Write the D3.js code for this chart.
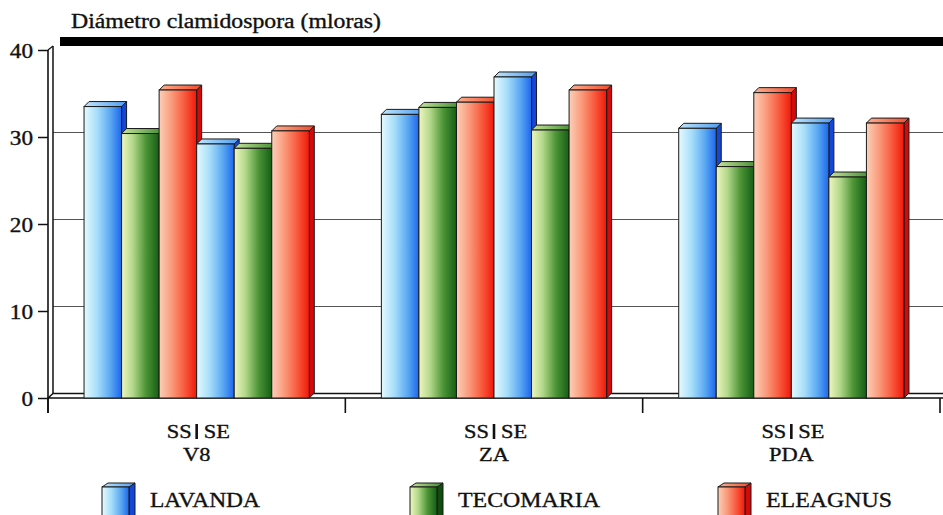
<!DOCTYPE html>
<html>
<head>
<meta charset="utf-8">
<script src="https://cdn.jsdelivr.net/npm/d3@7"></script>
<style>
  html, body { margin: 0; padding: 0; background: #fff; }
  svg { display: block; }
  svg text { fill: #111; stroke: #111; stroke-width: 0.35px; }
</style>
</head>
<body>
<svg id="chart" width="943" height="515"></svg>
<script>
// Sites and growing conditions
const groups = ["V8", "ZA", "PDA"];
const conditions = ["SS", "SE"];
const species = ["LAVANDA", "TECOMARIA", "ELEAGNUS"];

// Chlamydospore diameter per species, one value per site
const lavandaSS   = [33.5, 32.6, 31.0];
const tecomariaSS = [30.4, 33.4, 26.6];
const eleagnusSS  = [35.4, 34.0, 35.1];
const lavandaSE   = [29.2, 36.9, 31.6];
const tecomariaSE = [28.7, 30.8, 25.4];
const eleagnusSE  = [30.7, 35.4, 31.6];

const yTicks = [0, 10, 20, 30, 40];
const titleText = "Diámetro clamidospora (mloras)";

const seriesByCondition = {
  SS: [lavandaSS, tecomariaSS, eleagnusSS],
  SE: [lavandaSE, tecomariaSE, eleagnusSE]
};

const FONT = "Liberation Serif";
const svg = d3.select("#chart");
const W = 943, H = 515;

// 3D offsets: wall/floor depth and bar depth
const wdx = 5, wdy = -4.5;
const bdx = 5, bdy = -5;

const y = d3.scaleLinear().domain([0, 40]).range([398, 50]);
const x0 = d3.scaleBand().domain(groups).range([48, 940]).paddingInner(0).paddingOuter(0);
const slots = [];
conditions.forEach(c => species.forEach((s, i) => slots.push({ c, s, i })));
const x1 = d3.scaleBand().domain(d3.range(slots.length)).range([0, x0.bandwidth()])
  .paddingInner(0).paddingOuter(0.96);

// gradients
const defs = svg.append("defs");
const palettes = {
  LAVANDA:   { stops: [[0, "#e6f9fe"], [0.35, "#a6defa"], [0.7, "#5aa8f2"], [1, "#1d66ec"]], side: "#1446dc", top: ["#bfe6fb", "#4f9cf0"] },
  TECOMARIA: { stops: [[0, "#eef6c0"], [0.3, "#b2d88a"], [0.65, "#4c9436"], [1, "#165e14"]], side: "#0f4c0e", top: ["#c6e39c", "#3e8a2c"] },
  ELEAGNUS:  { stops: [[0, "#fcd0b8"], [0.35, "#fa9878"], [0.7, "#f8553a"], [1, "#f0180a"]], side: "#d40a0a", top: ["#fbb090", "#f04a2c"] }
};
species.forEach(s => {
  const p = palettes[s];
  const g = defs.append("linearGradient").attr("id", "front-" + s)
    .attr("x1", "0").attr("x2", "1").attr("y1", "0").attr("y2", "0");
  p.stops.forEach(([o, c]) => g.append("stop").attr("offset", o).attr("stop-color", c));
  const t = defs.append("linearGradient").attr("id", "top-" + s)
    .attr("x1", "0").attr("x2", "1").attr("y1", "0").attr("y2", "0");
  t.append("stop").attr("offset", 0).attr("stop-color", p.top[0]);
  t.append("stop").attr("offset", 1).attr("stop-color", p.top[1]);
});

// title
svg.append("text")
  .attr("x", 71).attr("y", 28)
  .attr("font-family", FONT).attr("font-size", 20)
  .attr("textLength", 310).attr("lengthAdjust", "spacingAndGlyphs")
  .text(titleText);

// heavy top edge of the back wall
svg.append("rect").attr("x", 60).attr("y", 37).attr("width", W - 60).attr("height", 9).attr("fill", "#000");

// back-wall gridlines
svg.append("g").selectAll("line")
  .data(yTicks.filter(v => v > 0 && v < 40))
  .join("line")
  .attr("x1", 48 + wdx).attr("x2", W)
  .attr("y1", d => y(d) + wdy).attr("y2", d => y(d) + wdy)
  .attr("stroke", "#555").attr("stroke-width", 1);

// left wall edge
svg.append("line").attr("x1", 48 + wdx).attr("x2", 48 + wdx)
  .attr("y1", 46).attr("y2", y(0) + wdy).attr("stroke", "#111").attr("stroke-width", 1.5);
svg.append("line").attr("x1", 48).attr("x2", 48 + wdx)
  .attr("y1", y(40)).attr("y2", 46).attr("stroke", "#111").attr("stroke-width", 1.2);

// floor
svg.append("path")
  .attr("d", `M48,${y(0)} L${48 + wdx},${y(0) + wdy} L${W + 5},${y(0) + wdy} L${W + 5},${y(0)} Z`)
  .attr("fill", "#fff").attr("stroke", "#111").attr("stroke-width", 1.5);

// y axis
const yAxis = d3.axisLeft(y).tickValues(yTicks).tickSize(10).tickPadding(5).tickFormat(d3.format("d"));
const ya = svg.append("g").attr("transform", "translate(48,0)").call(yAxis);
ya.attr("font-family", FONT);
ya.select(".domain").remove();
ya.selectAll(".tick line").attr("stroke", "#111").attr("stroke-width", 1.5);
ya.selectAll(".tick text")
  .attr("font-family", FONT)
  .attr("font-size", 20).attr("fill", "#111").attr("dy", null).attr("y", 7)
  .attr("x", -15)
  .each(function(d) {
    d3.select(this).attr("textLength", String(d).length * 11.6).attr("lengthAdjust", "spacingAndGlyphs");
  });
svg.append("line").attr("x1", 48).attr("x2", 48).attr("y1", y(40)).attr("y2", 413)
  .attr("stroke", "#111").attr("stroke-width", 1.6);

// x axis group separators
const bounds = groups.map(g => x0(g) + x0.bandwidth()).concat([x0(groups[0])]);
svg.append("g").selectAll("line").data(bounds).join("line")
  .attr("x1", d => d).attr("x2", d => d)
  .attr("y1", y(0)).attr("y2", 413)
  .attr("stroke", "#111").attr("stroke-width", 1.6);

// bars
const barData = [];
groups.forEach((g, gi) => {
  slots.forEach((sl, k) => {
    barData.push({ group: g, species: sl.s, cond: sl.c, value: seriesByCondition[sl.c][sl.i][gi], k });
  });
});

const bars = svg.append("g").selectAll("g").data(barData).join("g");
bars.each(function(d) {
  const gsel = d3.select(this);
  const xl = x0(d.group) + x1(d.k);
  const w = x1.bandwidth();
  const yt = y(d.value), yb = y(0);
  const p = palettes[d.species];
  // right side face
  gsel.append("path")
    .attr("d", `M${xl + w},${yt} L${xl + w + bdx},${yt + bdy} L${xl + w + bdx},${yb + bdy} L${xl + w},${yb} Z`)
    .attr("fill", p.side).attr("stroke", "#1a1a1a").attr("stroke-width", 1).attr("stroke-linejoin", "round");
  // top face
  gsel.append("path")
    .attr("d", `M${xl},${yt} L${xl + bdx},${yt + bdy} L${xl + w + bdx},${yt + bdy} L${xl + w},${yt} Z`)
    .attr("fill", `url(#top-${d.species})`).attr("stroke", "#1a1a1a").attr("stroke-width", 1).attr("stroke-linejoin", "round");
  // front face
  gsel.append("rect")
    .attr("x", xl).attr("y", yt).attr("width", w).attr("height", yb - yt)
    .attr("fill", `url(#front-${d.species})`).attr("stroke", "#1a1a1a").attr("stroke-width", 1);
});

// x labels: condition pair and site name
const xlab = svg.append("g").attr("font-family", FONT);
groups.forEach(g => {
  const c = x0(g) + x0.bandwidth() / 2;
  xlab.append("text").attr("transform", `translate(${c - 5},437.5) scale(1.18,1)`)
    .attr("font-family", FONT).attr("text-anchor", "end").attr("font-size", 19).text(conditions[0]);
  xlab.append("line").attr("x1", c).attr("x2", c).attr("y1", 424).attr("y2", 439)
    .attr("stroke", "#111").attr("stroke-width", 2.6);
  xlab.append("text").attr("transform", `translate(${c + 7},437.5) scale(1.18,1)`)
    .attr("font-family", FONT).attr("text-anchor", "start").attr("font-size", 19).text(conditions[1]);
  xlab.append("text").attr("transform", `translate(${c},461) scale(1.18,1)`)
    .attr("font-family", FONT).attr("text-anchor", "middle").attr("font-size", 19).text(g);
});

// legend
const legendX = [102, 410, 718];
const legendW = [110, 142, 126];
const lg = svg.append("g");
species.forEach((s, i) => {
  const lx = legendX[i], ly = 487, w = 27, h = 40, ddx = 6, ddy = -4;
  const p = palettes[s];
  lg.append("path")
    .attr("d", `M${lx + w},${ly} L${lx + w + ddx},${ly + ddy} L${lx + w + ddx},${ly + h + ddy} L${lx + w},${ly + h} Z`)
    .attr("fill", p.side).attr("stroke", "#1a1a1a").attr("stroke-width", 1);
  lg.append("path")
    .attr("d", `M${lx},${ly} L${lx + ddx},${ly + ddy} L${lx + w + ddx},${ly + ddy} L${lx + w},${ly} Z`)
    .attr("fill", `url(#top-${s})`).attr("stroke", "#1a1a1a").attr("stroke-width", 1);
  lg.append("rect").attr("x", lx).attr("y", ly).attr("width", w).attr("height", h)
    .attr("fill", `url(#front-${s})`).attr("stroke", "#1a1a1a").attr("stroke-width", 1);
  lg.append("text").attr("x", lx + 48).attr("y", 506.5)
    .attr("font-family", FONT).attr("font-size", 22)
    .attr("textLength", legendW[i]).attr("lengthAdjust", "spacingAndGlyphs").text(s);
});
</script>
</body>
</html>
